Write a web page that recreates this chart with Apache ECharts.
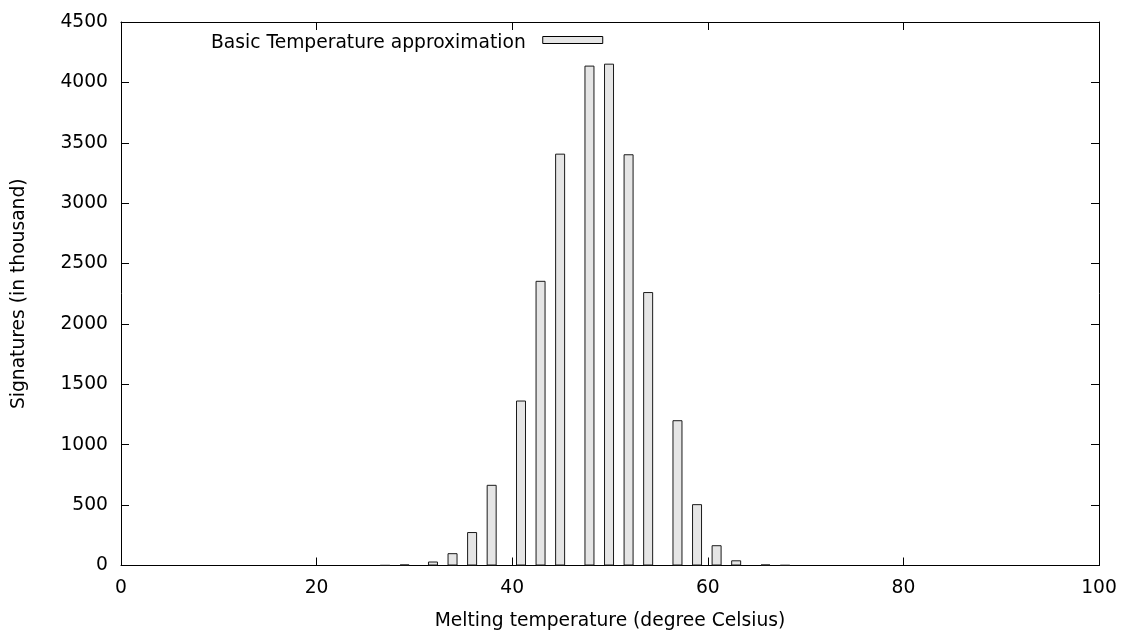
<!DOCTYPE html>
<html>
<head>
<meta charset="utf-8">
<script src="https://cdn.jsdelivr.net/npm/echarts@6/dist/echarts.min.js"></script>
<style>
html,body{margin:0;padding:0;background:#fff;}
#c{width:1121px;height:632px;}
</style>
</head>
<body>
<div id="c"></div>
<script>
// Melting temperature bin centres (degree Celsius)
var temps = [27.0, 29.0, 31.9, 33.9, 35.9, 37.9, 40.9, 42.9, 44.9, 47.9, 49.9, 51.9, 53.9, 56.9, 58.9, 60.9, 62.9, 65.9, 67.9];
// Signatures (in thousand)
var signatures = [2, 8, 33, 102, 277, 668, 1366, 2357, 3410, 4139, 4155, 3405, 2264, 1203, 508, 168, 43, 8, 3];
var xTicks = [0, 20, 40, 60, 80, 100];
var yTicks = [0, 500, 1000, 1500, 2000, 2500, 3000, 3500, 4000, 4500];
var seriesName = 'Basic Temperature approximation';

var FONT = 'DejaVu Sans';
var FS = 18.7;
var data = temps.map(function (t, i) { return [t, signatures[i]]; });
var plain = function (v) { return String(v); };

var lineStyle = { color: '#000', width: 1 };
var chart = echarts.init(document.getElementById('c'), null, { renderer: 'canvas' });
chart.setOption({
  animation: false,
  backgroundColor: '#fff',
  grid: { left: 121, right: 22, top: 22, bottom: 66.5, containLabel: false, outerBoundsMode: 'none' },
  legend: {
    data: [{ name: seriesName }],
    left: 206,
    top: 29,
    align: 'right',
    itemWidth: 60,
    itemHeight: 14,
    icon: 'path://M0,0H60V7H0Z M0,14',
    textStyle: { fontFamily: FONT, fontSize: FS, color: '#000', padding: [0, 12, 0, 0] },
    itemStyle: { color: '#e5e5e5', borderColor: '#000', borderWidth: 1 }
  },
  xAxis: [{
    type: 'value', position: 'bottom', min: xTicks[0], max: xTicks[xTicks.length - 1], interval: 20,
    name: 'Melting temperature (degree Celsius)', nameLocation: 'middle', nameGap: 46,
    nameTextStyle: { fontFamily: FONT, fontSize: FS, color: '#000' },
    axisLine: { show: true, onZero: false, lineStyle: lineStyle },
    axisTick: { show: true, inside: true, length: 8, lineStyle: lineStyle },
    axisLabel: { fontFamily: FONT, fontSize: FS, color: '#000', margin: 13, formatter: plain },
    splitLine: { show: false }
  }, {
    type: 'value', position: 'top', min: xTicks[0], max: xTicks[xTicks.length - 1], interval: 20,
    axisLine: { show: true, onZero: false, lineStyle: lineStyle },
    axisTick: { show: true, inside: true, length: 8, lineStyle: lineStyle },
    axisLabel: { show: false },
    splitLine: { show: false }
  }],
  yAxis: [{
    type: 'value', position: 'left', min: yTicks[0], max: yTicks[yTicks.length - 1], interval: 500,
    name: 'Signatures (in thousand)', nameLocation: 'middle', nameGap: 92, nameRotate: 90,
    nameTextStyle: { fontFamily: FONT, fontSize: FS, color: '#000' },
    axisLine: { show: true, onZero: false, lineStyle: lineStyle },
    axisTick: { show: true, inside: true, length: 8, lineStyle: lineStyle },
    axisLabel: { fontFamily: FONT, fontSize: FS, color: '#000', margin: 13, formatter: plain },
    splitLine: { show: false }
  }, {
    type: 'value', position: 'right', min: yTicks[0], max: yTicks[yTicks.length - 1], interval: 500,
    axisLine: { show: true, onZero: false, lineStyle: lineStyle },
    axisTick: { show: true, inside: true, length: 8, lineStyle: lineStyle },
    axisLabel: { show: false },
    splitLine: { show: false }
  }],
  series: [{
    name: seriesName,
    type: 'bar',
    xAxisIndex: 0,
    yAxisIndex: 0,
    barWidth: 10,
    data: data,
    itemStyle: { color: '#e5e5e5', borderColor: '#1a1a1a', borderWidth: 1 }
  }]
});
</script>
</body>
</html>
